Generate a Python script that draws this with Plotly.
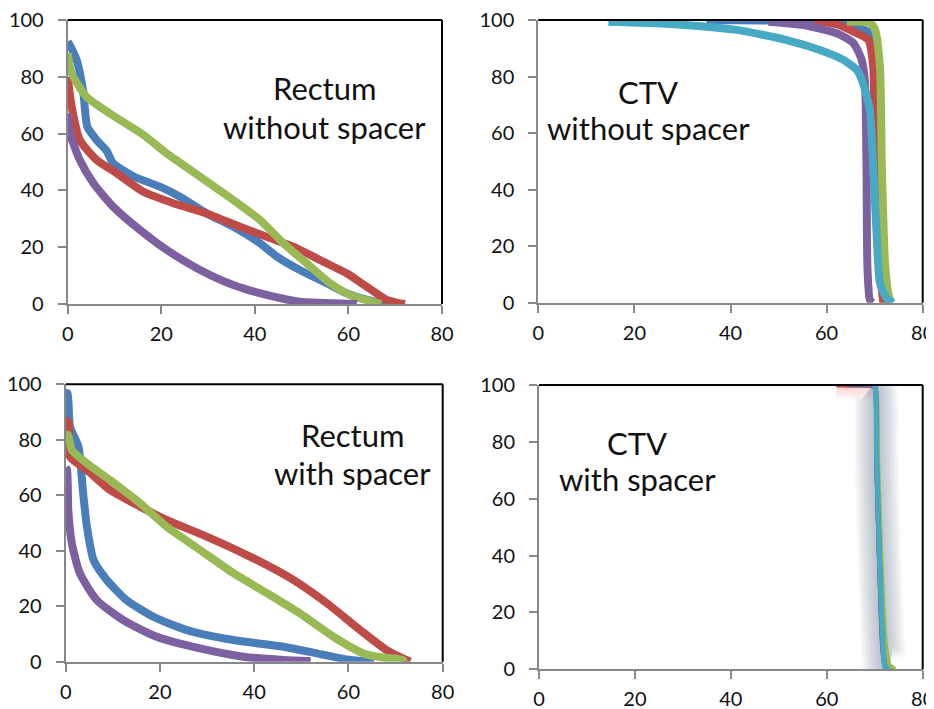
import plotly.graph_objects as go

W, H = 934, 709
OFF = 8  # the page body adds an 8px margin; compensate so pixels line up

# ---------------- DATA ----------------
# Rectum without spacer (top-left)
rwo_blue_x = [0, 0.5, 1.9, 3.3, 4.2, 6.2, 8.3, 9.7, 14, 19.7, 24, 29.7, 35.4, 41.1, 44.7, 49.6, 55.4, 59.6, 63.8, 67.4, 68]
rwo_blue_y = [92.4, 91, 86, 75, 62.4, 57.7, 54, 49.6, 45, 41.3, 37.8, 31.9, 27.2, 21.4, 16.7, 12, 7.3, 3.8, 1.5, 0.3, 0]
rwo_red_x = [0, 0.85, 2.6, 6.2, 10.5, 16.2, 22.6, 29.7, 36.8, 42.5, 48.2, 53.9, 59.6, 63.9, 68.2, 70.5, 72.1]
rwo_red_y = [80, 69.5, 57.7, 50.7, 46, 39.5, 35.5, 31.9, 27.2, 23.7, 20.2, 15.5, 10.8, 6.1, 1.4, 0.4, 0]
rwo_green_x = [0, 0.85, 4, 9, 16.2, 21.2, 28.3, 35.4, 41.1, 46.1, 51.1, 56.1, 60.3, 63.8, 67]
rwo_green_y = [88.3, 81.2, 73, 67.1, 59.5, 53, 44.8, 36.6, 29.6, 21.4, 14.3, 7.3, 3.2, 1.4, 0]
rwo_purple_x = [0, 0.5, 2.6, 5.5, 9.7, 15.5, 21.2, 28.3, 35.4, 42.5, 49.6, 56.6, 61.8]
rwo_purple_y = [67.1, 60, 50.7, 42.5, 34.3, 26, 19, 12, 6.7, 3.2, 0.8, 0.3, 0]

# CTV without spacer (top-right)
cwo_blue_x = [35, 50, 60, 66, 69.5, 70.5, 71, 71.5, 72.5]
cwo_blue_y = [100, 99.8, 99.3, 97.5, 95, 85, 50, 10, 0]
cwo_red_x = [57.2, 62, 65.6, 68.7, 69.7, 70, 71, 71.8]
cwo_red_y = [100, 98.5, 95.9, 92.9, 83.5, 60, 13, 0]
cwo_green_x = [64.2, 69, 70.1, 71.1, 71.5, 72.2, 73, 73.5]
cwo_green_y = [99.4, 99, 96.5, 83.5, 48, 13, 2, 0]
cwo_purple_x = [47.9, 55.2, 62.1, 65.6, 67.3, 68, 68.3, 68.5, 69, 69.6]
cwo_purple_y = [99.4, 98.2, 95.3, 91.8, 85.9, 77.6, 48, 12.6, 1, 0]
cwo_cyan_x = [14.6, 27.4, 41.3, 51.7, 58.6, 63.5, 66.3, 67.6, 69, 69.7, 70.4, 71.1, 72.5, 73.8]
cwo_cyan_y = [99.4, 98.6, 96.5, 92.9, 89.4, 85.9, 82.3, 77.6, 68.2, 48.1, 24.6, 7, 1.6, 0]

# Rectum with spacer (bottom-left)
rws_blue_x = [0, 0.4, 0.9, 2.7, 3.7, 4.5, 5.9, 8.7, 12.9, 18.6, 25.7, 35.6, 46.2, 53.3, 60.3, 65.4]
rws_blue_y = [97, 96.8, 84.7, 77.5, 60.7, 48.7, 36.7, 29.5, 22.2, 16.2, 11.4, 7.8, 5.4, 3, 0.6, 0]
rws_red_x = [0, 0.55, 0.9, 4.5, 9.4, 15.8, 21.4, 29.9, 39.1, 48.3, 55.4, 62.5, 68.1, 73.1]
rws_red_y = [87, 86.5, 73.9, 69.1, 61.9, 55.9, 51.1, 45.1, 37.9, 29.5, 21.1, 11.4, 4.2, 0]
rws_green_x = [0, 0.5, 1.3, 4.5, 9.4, 15.8, 21.4, 28.5, 35.6, 42.7, 49.7, 56.8, 63.2, 67.4, 71.6, 71.7]
rws_green_y = [82, 81.7, 76.3, 71.5, 65.5, 57.1, 48.7, 40.3, 31.9, 24.7, 17.4, 9, 3, 1.5, 0.6, 0]
rws_purple_x = [0, 0.3, 0.55, 1.3, 3, 6.6, 12.2, 19.3, 28.5, 37.7, 46.2, 52]
rws_purple_y = [70, 69.1, 54.7, 42.7, 31.9, 22.2, 15, 9, 4.8, 1.8, 0.6, 0.2]

# CTV with spacer (bottom-right)
cws_blue_x = [64, 69.5, 70.1, 70.4, 71, 71.7, 72.3, 73]
cws_blue_y = [100, 99.8, 99, 73.6, 38.4, 9.1, 0.9, 0]
cws_red_x = [62, 66, 69.5, 70.1, 70.4, 71, 71.8, 72.5]
cws_red_y = [100, 100, 99.8, 99, 73.6, 38.4, 5, 0]
cws_green_x = [66, 69.6, 70.2, 70.6, 71.3, 72.2, 73, 74.2]
cws_green_y = [100, 99.8, 99, 73.6, 38.4, 9.1, 1.5, 0]
cws_purple_x = [65, 69.5, 70.1, 70.4, 71, 71.6, 72.2, 72.8]
cws_purple_y = [100, 99.8, 99, 73.6, 38.4, 9.1, 0.9, 0]
cws_cyan_x = [69.7, 70.1, 70.4, 71, 71.7, 72.1, 72.6, 73.2]
cws_cyan_y = [100, 99, 73.6, 38.4, 9.1, 0.9, 0.2, 0]

x_ticks = [0, 20, 40, 60, 80]
y_ticks = [0, 20, 40, 60, 80, 100]

panel_labels = [("Rectum", "without spacer"), ("CTV", "without spacer"),
                ("Rectum", "with spacer"), ("CTV", "with spacer")]

# ---------------- STYLE ----------------
C_BLUE = "#4A7EBB"
C_RED = "#BE4B48"
C_GREEN = "#98B954"
C_PURPLE = "#7D60A0"
C_CYAN = "#46AAC5"
FONT = "Lato"

# panel pixel boxes (in target screenshot pixels): left, right, top, bottom
boxes = [
    (67.7, 442.0, 20.0, 304.0),
    (538.3, 922.7, 20.0, 302.7),
    (65.7, 442.7, 384.3, 661.7),
    (539.0, 922.7, 385.0, 669.3),
]
# annotation pixel positions (center x, line1 y, line2 y)
label_pos = [
    (324, 88, 127),
    (648, 92, 128),
    (352, 435, 473),
    (637, 443, 479),
]

FW, FH = W - OFF, H - OFF

def fx(px):
    return (px - OFF) / FW

def fy(py):
    return 1 - (py - OFF) / FH

fig = go.Figure()

series = [
    [(rwo_blue_x, rwo_blue_y, C_BLUE), (rwo_red_x, rwo_red_y, C_RED),
     (rwo_green_x, rwo_green_y, C_GREEN), (rwo_purple_x, rwo_purple_y, C_PURPLE)],
    [(cwo_blue_x, cwo_blue_y, C_BLUE), (cwo_red_x, cwo_red_y, C_RED),
     (cwo_green_x, cwo_green_y, C_GREEN), (cwo_purple_x, cwo_purple_y, C_PURPLE),
     (cwo_cyan_x, cwo_cyan_y, C_CYAN)],
    [(rws_blue_x, rws_blue_y, C_BLUE), (rws_red_x, rws_red_y, C_RED),
     (rws_green_x, rws_green_y, C_GREEN), (rws_purple_x, rws_purple_y, C_PURPLE)],
    [(cws_blue_x, cws_blue_y, C_BLUE), (cws_red_x, cws_red_y, C_RED),
     (cws_green_x, cws_green_y, C_GREEN), (cws_purple_x, cws_purple_y, C_PURPLE),
     (cws_cyan_x, cws_cyan_y, C_CYAN)],
]

shapes = []
annotations = []
for i, (l, r, t, b) in enumerate(boxes):
    n = "" if i == 0 else str(i + 1)
    xa, ya = "x" + n, "y" + n
    xdom = [fx(l), min(fx(r), 1.0)]
    ydom = [fy(b), fy(t)]
    common = dict(showgrid=False, zeroline=False, showline=True, linecolor="#888888",
                  linewidth=2, ticks="outside", ticklen=8, tickwidth=2, tickcolor="#888888",
                  automargin=False, ticklabeloverflow="allow",
                  tickfont=dict(family=FONT, size=20, color="#111111"), fixedrange=True)
    fig.layout["xaxis" + n] = dict(domain=xdom, range=[0, 80], tickvals=x_ticks,
                                   anchor=ya, ticklabelstandoff=3, **common)
    fig.layout["yaxis" + n] = dict(domain=ydom, range=[0, 100], tickvals=y_ticks,
                                   anchor=xa, ticklabelstandoff=10, **common)
    # black top & right border
    shapes.append(dict(type="line", xref=xa + " domain", yref=ya + " domain",
                       x0=0, x1=1, y0=1, y1=1, line=dict(color="black", width=2)))
    shapes.append(dict(type="line", xref=xa + " domain", yref=ya + " domain",
                       x0=1, x1=1, y0=0, y1=1, line=dict(color="black", width=2)))

    lw = 8 if i < 3 else 5
    if i == 3:
        # soft grey glow behind the lines
        gx, gy = cws_cyan_x, cws_cyan_y
        for w in range(44, 4, -4):
            fig.add_trace(go.Scatter(x=gx, y=gy, xaxis=xa, yaxis=ya, mode="lines",
                                     line=dict(color="rgba(115,130,150,0.06)", width=w,
                                               shape="spline"),
                                     hoverinfo="skip", showlegend=False))
        for w in range(28, 4, -4):
            fig.add_trace(go.Scatter(x=cws_red_x[:3], y=cws_red_y[:3], xaxis=xa, yaxis=ya,
                                     mode="lines",
                                     line=dict(color="rgba(235,110,110,0.05)", width=w),
                                     hoverinfo="skip", showlegend=False))
    for sx, sy, c in series[i]:
        fig.add_trace(go.Scatter(x=sx, y=sy, xaxis=xa, yaxis=ya, mode="lines",
                                 line=dict(color=c, width=lw, shape="spline", smoothing=0.6),
                                 hoverinfo="skip", showlegend=False))

    cx, y1, y2 = label_pos[i]
    for txt, yy in [(panel_labels[i][0], y1), (panel_labels[i][1], y2)]:
        annotations.append(dict(text=txt, xref="paper", yref="paper", x=fx(cx), y=fy(yy),
                                xanchor="center", yanchor="middle", showarrow=False,
                                font=dict(family=FONT, size=31, color="#111111")))

fig.update_layout(width=FW, height=FH, margin=dict(l=0, r=0, t=0, b=0),
                  paper_bgcolor="white", plot_bgcolor="white", showlegend=False,
                  shapes=shapes, annotations=annotations)

fig.write_html("out.html")
